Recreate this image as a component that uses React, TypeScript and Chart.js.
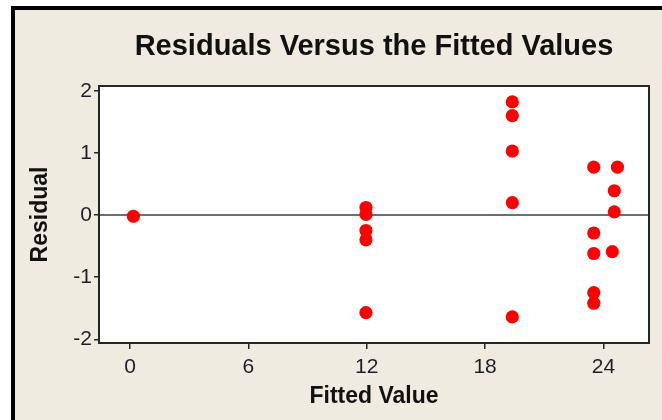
import React, { useEffect, useRef } from "react";
import { Chart, registerables } from "chart.js";

Chart.register(...registerables);

// Residuals plotted against the fitted values of the model
const fittedValues = [
  0.17,
  11.96, 11.96, 11.96, 11.96, 11.96,
  19.38, 19.38, 19.38, 19.38, 19.38,
  23.51, 23.51, 23.51, 23.51, 23.51,
  24.71, 24.55, 24.55, 24.45,
];
const residuals = [
  -0.02,
  0.12, 0.01, -0.25, -0.4, -1.57,
  1.82, 1.6, 1.03, 0.2, -1.64,
  0.77, -0.29, -0.62, -1.25, -1.42,
  0.77, 0.39, 0.05, -0.59,
];
const xTicks = [0, 6, 12, 18, 24];
const yTicks = [-2, -1, 0, 1, 2];

const chartTitle = "Residuals Versus the Fitted Values";
const xTitle = "Fitted Value";
const yTitle = "Residual";

const FONT = "'Liberation Sans', Arial, sans-serif";
const BEIGE = "#efebe1";

// White plotting region, zero reference line and dark frame
const plotFrame = {
  id: "plotFrame",
  beforeDraw(chart: any) {
    const { ctx, chartArea: a } = chart;
    ctx.save();
    ctx.fillStyle = "#ffffff";
    ctx.fillRect(a.left, a.top, a.right - a.left, a.bottom - a.top);
    ctx.restore();
  },
  beforeDatasetsDraw(chart: any) {
    const { ctx, chartArea: a, scales } = chart;
    const y0 = scales.y.getPixelForValue(0);
    ctx.save();
    ctx.strokeStyle = "#6e6e6e";
    ctx.lineWidth = 2;
    ctx.beginPath();
    ctx.moveTo(a.left, y0);
    ctx.lineTo(a.right, y0);
    ctx.stroke();
    ctx.restore();
  },
  afterDraw(chart: any) {
    const { ctx, chartArea: a } = chart;
    ctx.save();
    ctx.strokeStyle = "#262626";
    ctx.lineWidth = 2;
    ctx.strokeRect(a.left, a.top, a.right - a.left, a.bottom - a.top);
    ctx.restore();
  },
};

export default function App() {
  const canvasRef = useRef<HTMLCanvasElement | null>(null);

  useEffect(() => {
    const canvas = canvasRef.current;
    if (!canvas) return;
    const points = fittedValues.map((x, i) => ({ x, y: residuals[i] }));

    const chart = new Chart(canvas, {
      type: "scatter",
      data: {
        datasets: [
          {
            data: points,
            backgroundColor: "#ff0000",
            borderWidth: 0,
            pointRadius: 6.6,
            pointHoverRadius: 6.6,
          },
        ],
      },
      plugins: [plotFrame],
      options: {
        responsive: false,
        animation: false,
        layout: { padding: { left: 0, right: 13, top: 0, bottom: 0 } },
        plugins: {
          legend: { display: false },
          tooltip: { enabled: false },
          title: {
            display: true,
            text: chartTitle,
            fullSize: false,
            color: "#111111",
            font: { family: FONT, size: 29, weight: "bold", lineHeight: 1.2 },
            padding: { top: 29.6, bottom: 21.6 },
          },
        },
        scales: {
          x: {
            type: "linear",
            min: -1.572,
            max: 26.31,
            afterBuildTicks: (scale: any) => {
              scale.ticks = xTicks.map((value) => ({ value }));
            },
            afterFit: (scale: any) => {
              scale.height = 77;
            },
            grid: {
              drawOnChartArea: false,
              drawTicks: true,
              tickLength: 6,
              color: "#262626",
              lineWidth: 1.5,
            },
            border: { display: false },
            ticks: {
              padding: 6,
              color: "#1e1e28",
              font: { family: FONT, size: 21 },
              maxRotation: 0,
            },
            title: {
              display: true,
              text: xTitle,
              color: "#111111",
              font: { family: FONT, size: 23, weight: "bold", lineHeight: 1.2 },
              padding: { top: 0, bottom: 9.7 },
            },
          },
          y: {
            type: "linear",
            min: -2.06,
            max: 2.076,
            afterBuildTicks: (scale: any) => {
              scale.ticks = yTicks.map((value) => ({ value }));
            },
            afterFit: (scale: any) => {
              scale.width = 99;
            },
            grid: {
              drawOnChartArea: false,
              drawTicks: true,
              tickLength: 5,
              color: "#262626",
              lineWidth: 1.5,
            },
            border: { display: false },
            ticks: {
              padding: 2,
              color: "#1e1e28",
              font: { family: FONT, size: 21 },
            },
            title: {
              display: true,
              text: yTitle,
              color: "#111111",
              font: { family: FONT, size: 23, weight: "bold", lineHeight: 1.2 },
              padding: { top: 26.7, bottom: 0 },
            },
          },
        },
      },
    });

    return () => chart.destroy();
  }, []);

  return (
    <div
      style={{
        position: "fixed",
        left: 0,
        top: 0,
        width: 662,
        height: 420,
        background: "#ffffff",
        overflow: "hidden",
      }}
    >
      <div
        style={{
          position: "absolute",
          left: 11,
          top: 6,
          right: 0,
          bottom: 0,
          borderLeft: "4px solid #000",
          borderTop: "4px solid #000",
          background: BEIGE,
        }}
      />
      <canvas
        ref={canvasRef}
        width={662}
        height={420}
        style={{ position: "absolute", left: 0, top: 0, width: 662, height: 420 }}
      />
    </div>
  );
}
